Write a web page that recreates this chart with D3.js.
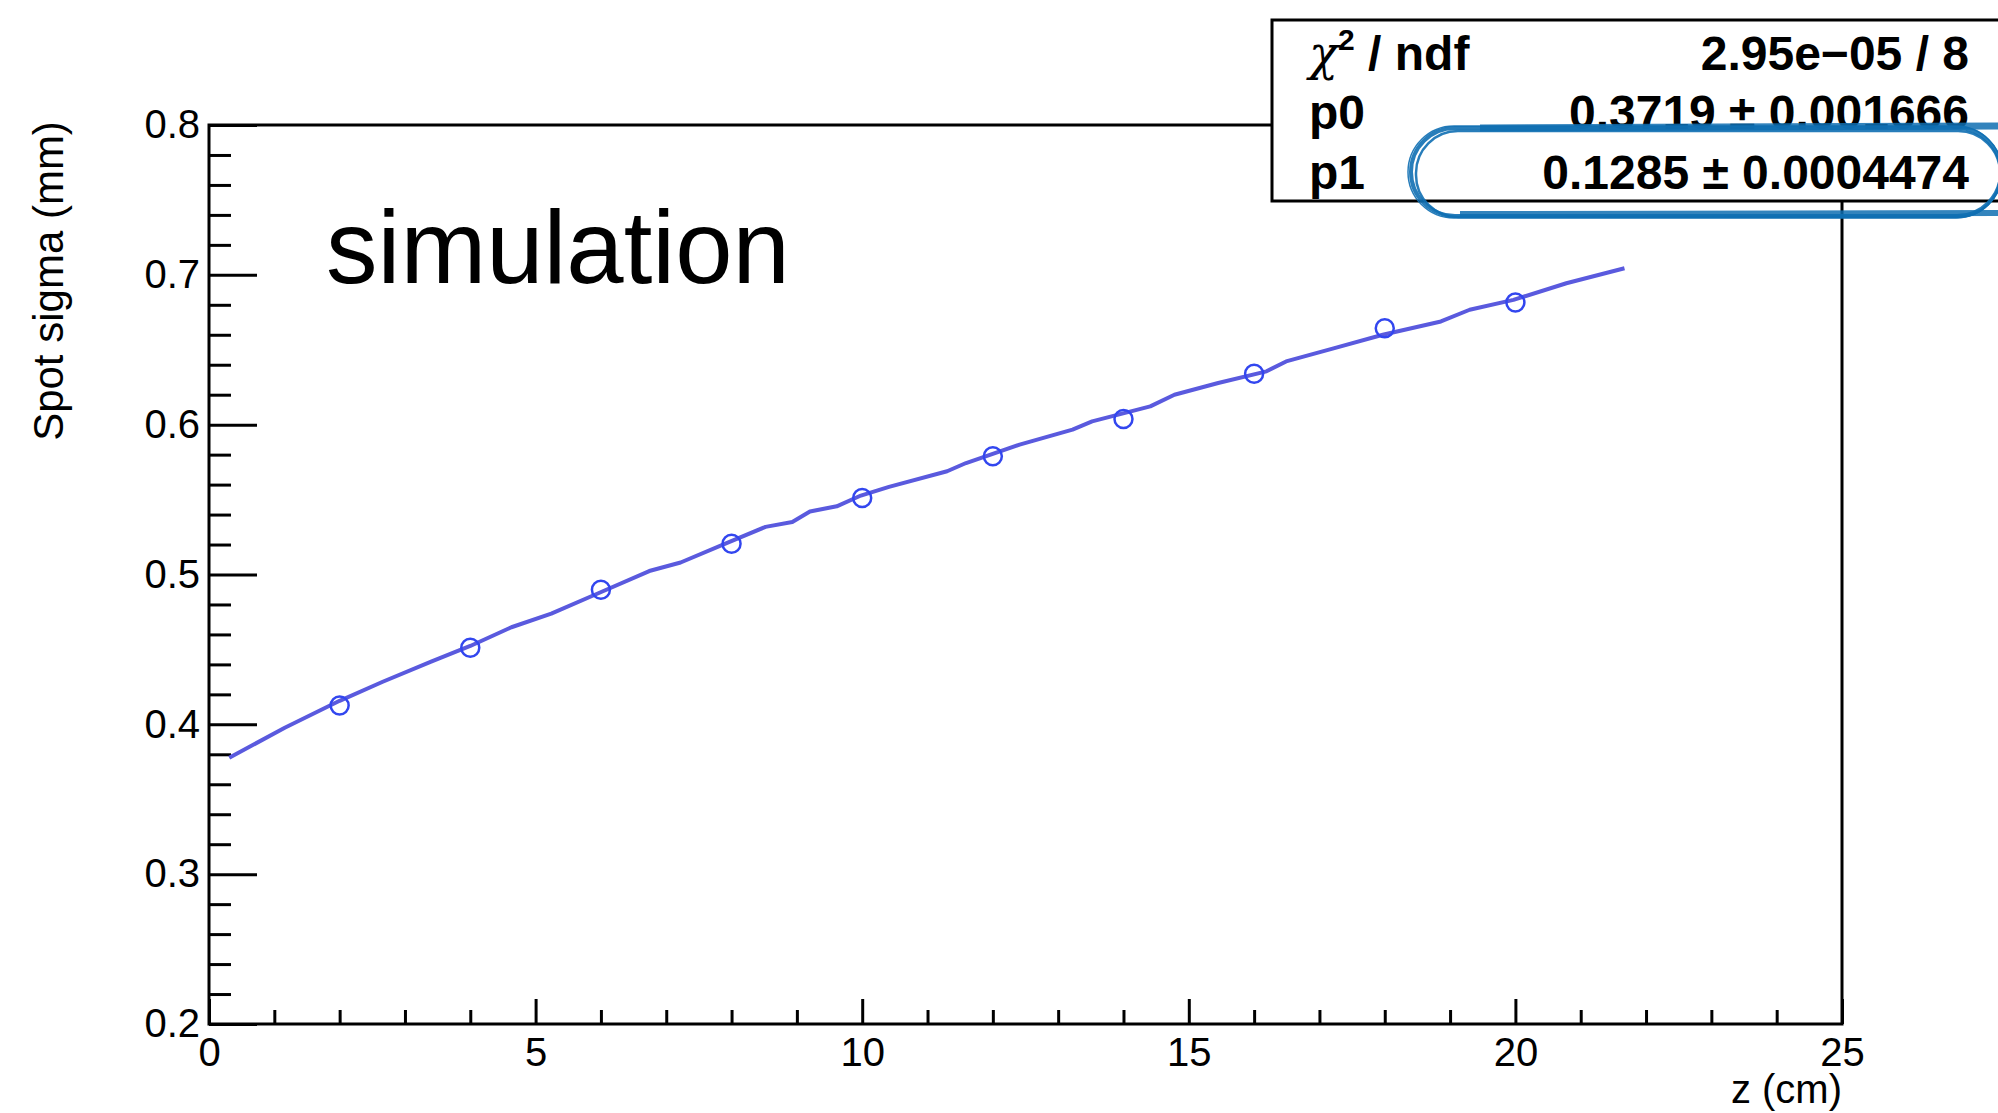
<!DOCTYPE html>
<html>
<head>
<meta charset="utf-8">
<script src="https://cdn.jsdelivr.net/npm/d3@7"></script>
<style>
  html, body { margin: 0; padding: 0; background: #fff; }
  svg { display: block; font-family: "Liberation Sans", Arial, Helvetica, sans-serif; }
</style>
</head>
<body>
<div id="my_dataviz"></div>
<script>
// measured points (open circles)
const zPoints = [2, 4, 6, 8, 10, 12, 14, 16, 18, 20];
const sigmaPoints = [0.4125, 0.4511, 0.4898, 0.5205, 0.5511, 0.5789, 0.6038, 0.6340, 0.6644, 0.6815];

// fit curve as drawn in the picture
const fitZ = [0.31, 1.16, 2.0, 2.66, 3.41, 4.0, 4.63, 5.24, 5.96, 6.74, 7.22, 7.96, 8.52, 8.93, 9.2, 9.61, 9.98,
              10.41, 11.3, 11.59, 12.41, 13.22, 13.52, 14.41, 14.78, 15.45, 16.19, 16.49, 17.23, 17.97, 18.86, 19.3,
              19.97, 20.78, 21.67];
const fitSigma = [0.3777, 0.3977, 0.4157, 0.4284, 0.442, 0.4523, 0.4648, 0.4739, 0.4875, 0.5023, 0.508, 0.5216, 0.5318,
                  0.535, 0.542, 0.5455, 0.5527, 0.5585, 0.5689, 0.5744, 0.5867, 0.5967, 0.6022, 0.6122, 0.62, 0.6278,
                  0.6356, 0.6422, 0.6511, 0.66, 0.6689, 0.6767, 0.6833, 0.6944, 0.7044];

// axis ticks
const xMajorTicks = [0, 5, 10, 15, 20, 25];
const yMajorTicks = [0.2, 0.3, 0.4, 0.5, 0.6, 0.7, 0.8];
const yTickLabels = ["0.2", "0.3", "0.4", "0.5", "0.6", "0.7", "0.8"];

// fit box
const statLabels = ["p0", "p1"];
const statValues = ["0.3719 \u00b1 0.001666", "0.1285 \u00b1 0.0004474"];
const chi2Value = "2.95e\u221205 / 8";

const W = 1998, H = 1113;
const frame = { left: 209, right: 1842, top: 125, bottom: 1024 };

const svg = d3.select("#my_dataviz")
  .append("svg")
    .attr("width", W)
    .attr("height", H);

svg.append("rect").attr("width", W).attr("height", H).attr("fill", "#fff");

const x = d3.scaleLinear().domain([0, 25]).range([frame.left, frame.right]);
const y = d3.scaleLinear().domain([0.2, 0.8]).range([frame.bottom, frame.top]);

const xMinor = d3.range(0, 26, 1).filter(v => v % 5 !== 0);
const yMinor = d3.range(11, 40).map(v => v / 50).filter(v => Math.round(v * 50) % 5 !== 0);

// minor ticks
svg.append("g")
  .attr("transform", `translate(0,${frame.bottom})`)
  .call(d3.axisBottom(x).tickValues(xMinor).tickSize(-14).tickSizeOuter(0).tickFormat(""))
  .call(g => g.select(".domain").remove());
svg.append("g")
  .attr("transform", `translate(${frame.left},0)`)
  .call(d3.axisLeft(y).tickValues(yMinor).tickSize(-22).tickSizeOuter(0).tickFormat(""))
  .call(g => g.select(".domain").remove());

// major ticks + labels
svg.append("g")
  .attr("transform", `translate(0,${frame.bottom})`)
  .call(d3.axisBottom(x).tickValues(xMajorTicks).tickSize(-25).tickSizeOuter(0).tickPadding(14).tickFormat(d3.format("d")))
  .call(g => g.select(".domain").remove());
svg.append("g")
  .attr("transform", `translate(${frame.left},0)`)
  .call(d3.axisLeft(y).tickValues(yMajorTicks).tickSize(-48).tickSizeOuter(0).tickPadding(9)
        .tickFormat((d, i) => yTickLabels[i]))
  .call(g => g.select(".domain").remove());

svg.selectAll(".tick line").attr("stroke", "#000").attr("stroke-width", 3);
svg.selectAll(".tick text")
  .attr("fill", "#000")
  .style("font-size", "40px")
  .style("font-family", "'Liberation Sans', Arial, sans-serif");

// frame
svg.append("rect")
  .attr("x", frame.left)
  .attr("y", frame.top)
  .attr("width", frame.right - frame.left)
  .attr("height", frame.bottom - frame.top)
  .attr("fill", "none")
  .attr("stroke", "#000")
  .attr("stroke-width", 3);

// axis titles
svg.append("text")
  .attr("x", frame.right)
  .attr("y", 1103)
  .attr("text-anchor", "end")
  .style("font-size", "40px")
  .text("z (cm)");

svg.append("text")
  .attr("transform", "translate(63,281) rotate(-90)")
  .attr("text-anchor", "middle")
  .style("font-size", "42px")
  .text("Spot sigma (mm)");

svg.append("text")
  .attr("x", 326)
  .attr("y", 283)
  .style("font-size", "103px")
  .text("simulation");

// fit curve
const fitData = fitZ.map((z, i) => ({ z, s: fitSigma[i] }));
const fitLine = d3.line()
  .x(d => x(d.z))
  .y(d => y(d.s));

svg.append("path")
  .datum(fitData)
  .attr("d", fitLine)
  .style("fill", "none")
  .style("stroke", "#5a5ade")
  .style("stroke-width", 4)
  .style("stroke-linejoin", "round");

// points
svg.selectAll(".dot")
  .data(zPoints.map((z, i) => ({ z, s: sigmaPoints[i] })))
  .enter().append("circle")
  .attr("class", "dot")
  .attr("cx", d => x(d.z))
  .attr("cy", d => y(d.s))
  .attr("r", 9)
  .style("fill", "none")
  .style("stroke", "#3246ef")
  .style("stroke-width", 2.5);

// stats box
const box = svg.append("g");
box.append("rect")
  .attr("x", 1272)
  .attr("y", 20)
  .attr("width", 800)
  .attr("height", 181)
  .attr("fill", "#fff")
  .attr("stroke", "#000")
  .attr("stroke-width", 3);

const rowY = [70, 129, 189];
const chi = box.append("text")
  .attr("x", 1309)
  .attr("y", rowY[0])
  .style("font-size", "48px")
  .style("font-weight", "bold");
chi.append("tspan").style("font-weight", "normal").style("font-family", "'DejaVu Serif', serif").style("font-style", "italic").text("\u03c7");
chi.append("tspan").attr("dy", -20).style("font-size", "30px").text("2");
chi.append("tspan").attr("dy", 20).text(" / ndf");

box.append("text")
  .attr("x", 1969)
  .attr("y", rowY[0])
  .attr("text-anchor", "end")
  .style("font-size", "48px")
  .style("font-weight", "bold")
  .text(chi2Value);

statLabels.forEach((lab, i) => {
  box.append("text")
    .attr("x", 1309)
    .attr("y", rowY[i + 1])
    .style("font-size", "48px")
    .style("font-weight", "bold")
    .text(lab);
  box.append("text")
    .attr("x", 1969)
    .attr("y", rowY[i + 1])
    .attr("text-anchor", "end")
    .style("font-size", "48px")
    .style("font-weight", "bold")
    .text(statValues[i]);
});

// hand drawn highlight around p1
const hl = svg.append("g").attr("fill", "none").attr("stroke", "#0f6fb2");
const hlRects = [
  { x: 1411, y: 128, w: 590, h: 88, r: 44, sw: 4 },
  { x: 1416, y: 131, w: 584, h: 86, r: 42, sw: 2.5 },
  { x: 1408, y: 126, w: 594, h: 92, r: 46, sw: 1.5 }
];
hlRects.forEach(d => {
  hl.append("rect")
    .attr("x", d.x).attr("y", d.y)
    .attr("width", d.w).attr("height", d.h)
    .attr("rx", d.r).attr("ry", d.r)
    .attr("stroke-width", d.sw)
    .attr("opacity", 0.9);
});
// brush-like thick edges
hl.append("path")
  .attr("d", "M1480,128 L1998,126")
  .attr("stroke-width", 7)
  .attr("opacity", 0.85);
hl.append("path")
  .attr("d", "M1460,214 L1998,213")
  .attr("stroke-width", 6)
  .attr("opacity", 0.85);
</script>
</body>
</html>
